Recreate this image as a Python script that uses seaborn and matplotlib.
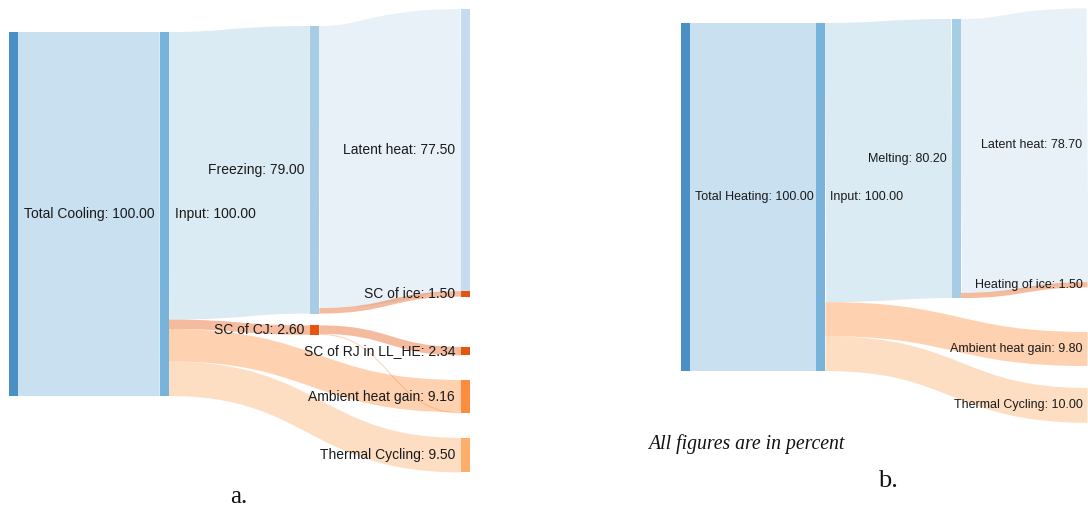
import matplotlib
matplotlib.use("Agg")
import matplotlib.pyplot as plt
from matplotlib.path import Path
from matplotlib.patches import PathPatch
import seaborn as sns

# ---------------------------------------------------------------- data
cooling_nodes = ["Total Cooling", "Input", "Freezing", "SC of CJ", "Latent heat",
                 "SC of ice", "SC of RJ in LL_HE", "Ambient heat gain", "Thermal Cycling"]
cooling_sources = ["Total Cooling", "Input", "Input", "Input", "Input",
                   "Freezing", "Freezing", "SC of CJ", "SC of CJ"]
cooling_targets = ["Input", "Freezing", "SC of CJ", "Ambient heat gain", "Thermal Cycling",
                   "Latent heat", "SC of ice", "SC of RJ in LL_HE", "Ambient heat gain"]
cooling_values = [100.0, 79.0, 2.60, 8.90, 9.50, 77.50, 1.50, 2.34, 0.26]

heating_nodes = ["Total Heating", "Input", "Melting", "Latent heat", "Heating of ice",
                 "Ambient heat gain", "Thermal Cycling"]
heating_sources = ["Total Heating", "Input", "Input", "Input", "Melting", "Melting"]
heating_targets = ["Input", "Melting", "Ambient heat gain", "Thermal Cycling",
                   "Latent heat", "Heating of ice"]
heating_values = [100.0, 80.20, 9.80, 10.00, 78.70, 1.50]

# ---------------------------------------------------------------- style
node_colors = {
    "Total Cooling": "#4a90c5", "Total Heating": "#4a90c5",
    "Input": "#78b3db",
    "Freezing": "#a6cde3", "Melting": "#a6cde3",
    "Latent heat": "#c6dbef",
    "SC of ice": "#e6550d", "Heating of ice": "#e6550d",
    "SC of CJ": "#e6550d", "SC of RJ in LL_HE": "#e6550d",
    "Ambient heat gain": "#fd8d3c",
    "Thermal Cycling": "#fdae6b",
}
LINK_ALPHA = 0.4
TEXT_COLOR = "#1a1a1a"
DPI = 100

# vertical placement per column: (top, gaps between consecutive nodes)
cooling_layout = {0: (0.0, []), 1: (0.0, []), 2: (-1.65, [3.25]),
                  3: (-6.3, [0.0, 13.8, 6.75, 6.75])}
heating_layout = {0: (0.0, []), 1: (0.0, []), 2: (-1.15, []),
                  3: (-4.22, [0.0, 12.8, 6.3])}

sns.set_theme(style="white")
plt.rcParams["font.family"] = ["Liberation Sans", "DejaVu Sans"]


def node_totals(nodes, src, tgt, val):
    out_sum = {n: 0.0 for n in nodes}
    in_sum = {n: 0.0 for n in nodes}
    for s, t, v in zip(src, tgt, val):
        out_sum[s] += v
        in_sum[t] += v
    return {n: max(out_sum[n], in_sum[n]) for n in nodes}


def node_columns(nodes, src, tgt):
    depth = {n: 0 for n in nodes}
    changed = True
    while changed:
        changed = False
        for s, t in zip(src, tgt):
            if depth[t] < depth[s] + 1:
                depth[t] = depth[s] + 1
                changed = True
    last = max(depth.values())
    sinks = set(nodes) - set(src)
    return {n: (last if n in sinks else depth[n]) for n in nodes}


def draw_sankey(ax, nodes, src, tgt, val, layout, node_w, pad_pt, fontsize):
    totals = node_totals(nodes, src, tgt, val)
    cols = node_columns(nodes, src, tgt)
    n_cols = max(cols.values()) + 1

    # stack nodes inside each column
    top = {}
    for c in range(n_cols):
        y, gaps = layout[c]
        members = [n for n in nodes if cols[n] == c]
        for i, n in enumerate(members):
            if i > 0:
                y += gaps[i - 1]
            top[n] = y
            y += totals[n]

    px_per_unit = abs(ax.transData.transform((0, 1))[1] - ax.transData.transform((0, 0))[1])
    links = list(zip(src, tgt, val))

    # band offsets at source (ordered by target position) and target (by source position)
    src_off, tgt_off = {}, {}
    for n in nodes:
        outs = sorted([l for l in links if l[0] == n], key=lambda l: top[l[1]])
        y = top[n]
        for l in outs:
            src_off[l] = y
            y += l[2]
        ins = sorted([l for l in links if l[1] == n], key=lambda l: top[l[0]])
        y = top[n]
        for l in ins:
            tgt_off[l] = y
            y += l[2]

    for l in links:
        s, t, v = l
        x0 = cols[s] + node_w
        x1 = cols[t]
        xm = (x0 + x1) / 2
        y0 = src_off[l] + v / 2
        y1 = tgt_off[l] + v / 2
        path = Path([(x0, y0), (xm, y0), (xm, y1), (x1, y1)],
                    [Path.MOVETO, Path.CURVE4, Path.CURVE4, Path.CURVE4])
        ax.add_patch(PathPatch(path, fill=False, edgecolor=node_colors[t],
                               alpha=LINK_ALPHA, capstyle="butt",
                               linewidth=max(v * px_per_unit * 72 / DPI, 0.7)))

    for n in nodes:
        ax.bar(cols[n], totals[n], width=node_w, bottom=top[n], align="edge",
               color=node_colors[n], linewidth=0)

    for n in nodes:
        yc = top[n] + totals[n] / 2
        label = f"{n}: {totals[n]:.2f}"
        if cols[n] < n_cols / 2:
            ax.annotate(label, (cols[n] + node_w, yc), xytext=(pad_pt, 0),
                        textcoords="offset points", ha="left", va="center",
                        fontsize=fontsize, color=TEXT_COLOR)
        else:
            ax.annotate(label, (cols[n], yc), xytext=(-pad_pt, 0),
                        textcoords="offset points", ha="right", va="center",
                        fontsize=fontsize, color=TEXT_COLOR)


W, H = 1088, 508
fig = plt.figure(figsize=(W / DPI, H / DPI), dpi=DPI)
fig.patch.set_facecolor("white")


def panel_axes(x_first, col_step, y_first, unit_px):
    ax = fig.add_axes([0, 0, 1, 1])
    ax.set_axis_off()
    ax.patch.set_visible(False)
    ax.set_xlim((0 - x_first) / col_step, (W - x_first) / col_step)
    ax.set_ylim((H - y_first) / unit_px, (0 - y_first) / unit_px)
    return ax


ax_a = panel_axes(9, 150.67, 32, 3.64)
draw_sankey(ax_a, cooling_nodes, cooling_sources, cooling_targets, cooling_values,
            cooling_layout, node_w=9 / 150.67, pad_pt=4.3, fontsize=10)

ax_b = panel_axes(681, 135.5, 23, 3.48)
draw_sankey(ax_b, heating_nodes, heating_sources, heating_targets, heating_values,
            heating_layout, node_w=9 / 135.5, pad_pt=3.6, fontsize=9)

serif = ["Liberation Serif", "DejaVu Serif"]
fig.text(648 / W, 1 - 449 / H, "All figures are in percent", family=serif,
         style="italic", fontsize=14.2, ha="left", va="baseline", color="#111111")
fig.text(239 / W, 1 - 503 / H, "a.", family=serif, fontsize=18,
         ha="center", va="baseline", color="#111111")
fig.text(888 / W, 1 - 487 / H, "b.", family=serif, fontsize=19,
         ha="center", va="baseline", color="#111111")

fig.savefig("out.png", dpi=DPI, facecolor="white")
